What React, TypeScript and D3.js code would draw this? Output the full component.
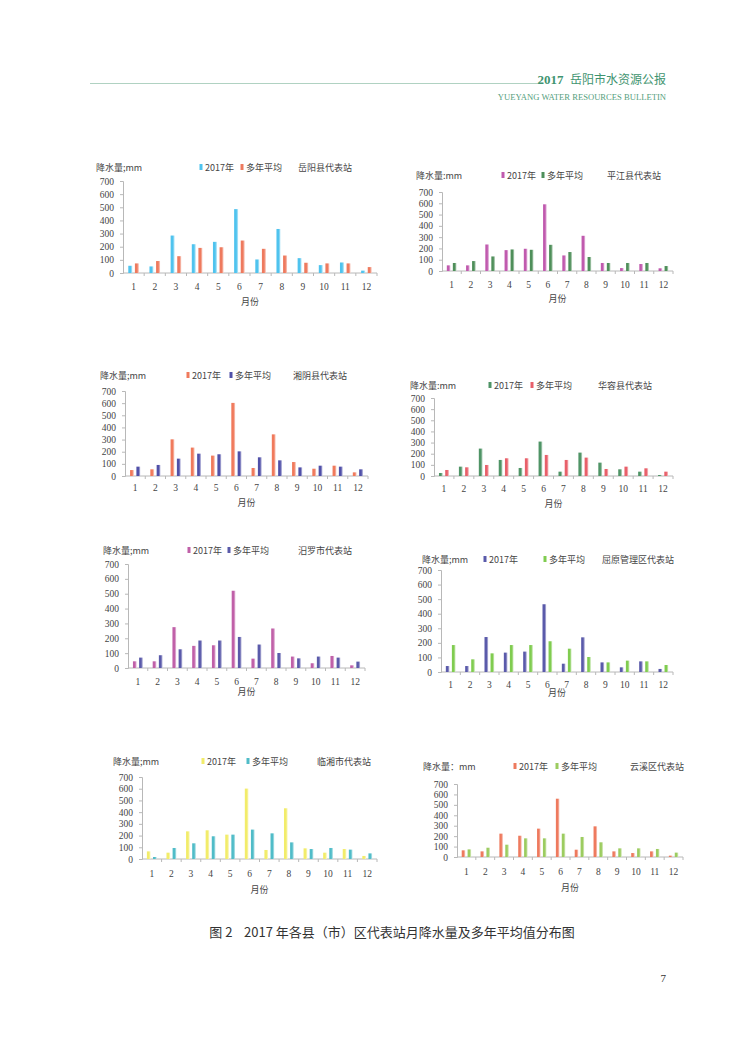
import { useEffect, useRef } from 'react'
import * as d3 from 'd3'

const months = ['1', '2', '3', '4', '5', '6', '7', '8', '9', '10', '11', '12']
const yTicks = [0, 100, 200, 300, 400, 500, 600, 700]
const seriesNames = ['2017年', '多年平均']

const stations = ['岳阳县代表站', '平江县代表站', '湘阴县代表站', '华容县代表站', '汨罗市代表站', '屈原管理区代表站', '临湘市代表站', '云溪区代表站']
const yAxisTitles = ['降水量;mm', '降水量:mm', '降水量;mm', '降水量:mm', '降水量;mm', '降水量;mm', '降水量;mm', '降水量：mm']

const yueyang2017 = [55, 50, 285, 219, 237, 486, 103, 335, 113, 60, 80, 18]
const yueyangAvg = [73, 91, 128, 191, 196, 247, 184, 133, 78, 73, 73, 45]
const pingjiang2017 = [50, 50, 235, 185, 197, 591, 138, 312, 71, 26, 62, 24]
const pingjiangAvg = [71, 88, 129, 191, 188, 232, 168, 124, 71, 71, 71, 44]
const xiangyin2017 = [49, 55, 302, 234, 168, 602, 66, 343, 115, 60, 85, 30]
const xiangyinAvg = [77, 91, 143, 184, 179, 203, 154, 129, 71, 85, 77, 55]
const huarong2017 = [27, 84, 246, 144, 72, 309, 39, 210, 120, 60, 39, 9]
const huarongAvg = [54, 78, 99, 159, 159, 189, 144, 165, 63, 84, 69, 39]
const miluo2017 = [45, 45, 275, 149, 153, 520, 63, 266, 77, 32, 81, 18]
const miluoAvg = [70, 86, 126, 185, 185, 209, 158, 101, 65, 77, 70, 43]
const quyuan2017 = [41, 41, 240, 133, 140, 465, 57, 238, 66, 32, 73, 21]
const quyuanAvg = [185, 87, 128, 185, 185, 211, 160, 103, 66, 78, 73, 48]
const linxiang2017 = [65, 54, 236, 245, 208, 601, 77, 433, 91, 54, 85, 26]
const linxiangAvg = [17, 94, 134, 194, 208, 251, 219, 142, 85, 94, 80, 48]
const yunxi2017 = [64, 54, 224, 204, 272, 559, 70, 294, 54, 38, 54, 13]
const yunxiAvg = [73, 89, 118, 179, 179, 224, 192, 141, 83, 83, 77, 42]

const values2017 = [yueyang2017, pingjiang2017, xiangyin2017, huarong2017, miluo2017, quyuan2017, linxiang2017, yunxi2017]
const valuesAvg = [yueyangAvg, pingjiangAvg, xiangyinAvg, huarongAvg, miluoAvg, quyuanAvg, linxiangAvg, yunxiAvg]

const colors = [
  ['#4fc3ee', '#ee7a5e'],
  ['#c05aae', '#4f8f5a'],
  ['#f07a5c', '#5050a8'],
  ['#4f9466', '#e8606a'],
  ['#c060a8', '#5a5aaa'],
  ['#5a5aaa', '#80cc50'],
  ['#f2ec6a', '#50bcc8'],
  ['#ee7a5e', '#9ccc60'],
]

// panel placement on the page
const panels = [
  { x0: 123, x1: 377, top: 181, zero: 273, tx: 96, ty: 167, l1: 201, l2: 242, sx: 298, my: 286, xt: 301 },
  { x0: 442, x1: 673, top: 192, zero: 271, tx: 416, ty: 175, l1: 503, l2: 543, sx: 607, my: 284, xt: 298 },
  { x0: 125, x1: 368, top: 391, zero: 476, tx: 100, ty: 375, l1: 188, l2: 231, sx: 293, my: 487, xt: 502 },
  { x0: 434, x1: 673, top: 398, zero: 476, tx: 410, ty: 385, l1: 490, l2: 532, sx: 598, my: 488, xt: 503 },
  { x0: 128, x1: 365, top: 564, zero: 668, tx: 103, ty: 550, l1: 189, l2: 229, sx: 298, my: 681, xt: 691 },
  { x0: 441, x1: 673, top: 570, zero: 672, tx: 422, ty: 559, l1: 485, l2: 545, sx: 602, my: 684, xt: 692 },
  { x0: 142, x1: 377, top: 777, zero: 859, tx: 113, ty: 761, l1: 203, l2: 248, sx: 317, my: 873, xt: 889 },
  { x0: 457, x1: 683, top: 784, zero: 857, tx: 423, ty: 766, l1: 515, l2: 557, sx: 630, my: 871, xt: 887 },
]

const serif = '"Liberation Serif", "DejaVu Serif", serif'
const cjk = '"Noto Sans CJK SC", sans-serif'

export default function App() {
  const svgRef = useRef<SVGSVGElement>(null)

  useEffect(() => {
    if (!svgRef.current) return
    const svg = d3.select(svgRef.current)
    svg.selectAll('*').remove()

    const defs = svg.append('defs')

    // page header
    svg.append('line')
      .attr('x1', 90).attr('x2', 541).attr('y1', 83.5).attr('y2', 83.5)
      .attr('stroke', '#9cc7b2').attr('stroke-width', 0.8)
    const head = svg.append('text')
      .attr('x', 666).attr('y', 84).attr('text-anchor', 'end')
      .attr('fill', '#3f9470').attr('font-size', 13)
      .style('white-space', 'pre')
    head.append('tspan').attr('font-family', serif).attr('font-weight', 'bold').text('2017  ')
    head.append('tspan').attr('font-family', cjk).attr('font-size', 12).text('岳阳市水资源公报')
    svg.append('text')
      .attr('x', 666).attr('y', 100).attr('text-anchor', 'end')
      .attr('fill', '#55a07e').attr('font-size', 8.6).attr('font-family', serif)
      .text('YUEYANG WATER RESOURCES BULLETIN')

    panels.forEach((p, i) => {
      const g = svg.append('g')
      const x = d3.scaleBand().domain(months).range([p.x0, p.x1])
      const sub = d3.scaleBand().domain(seriesNames).range([0, x.bandwidth()])
        .paddingInner(0.4).paddingOuter(0.8)
      const y = d3.scaleLinear().domain([0, 700]).range([p.zero, p.top])

      colors[i].forEach((c, s) => {
        const grad = defs.append('linearGradient')
          .attr('id', `grad-${i}-${s}`)
          .attr('x1', 0).attr('x2', 1).attr('y1', 0).attr('y2', 0)
        grad.append('stop').attr('offset', 0).attr('stop-color', c)
        grad.append('stop').attr('offset', 0.55).attr('stop-color', c)
        grad.append('stop').attr('offset', 1).attr('stop-color', d3.interpolateRgb(c, '#fff')(0.65))
      })

      // y axis
      const yAxis = g.append('g')
        .attr('transform', `translate(${p.x0},0)`)
        .call(d3.axisLeft(y).tickValues(yTicks).tickSize(3).tickPadding(6))
      yAxis.select('.domain').attr('stroke', '#b8b8b8')
      yAxis.selectAll('.tick line').attr('stroke', '#b8b8b8')
      yAxis.selectAll('.tick text')
        .attr('font-family', serif).attr('font-size', 9.5).attr('fill', '#444')

      // x axis baseline with ticks at category boundaries
      g.append('line')
        .attr('x1', p.x0).attr('x2', p.x1).attr('y1', p.zero).attr('y2', p.zero)
        .attr('stroke', '#b8b8b8')
      g.selectAll('.xtick')
        .data(months)
        .join('line')
        .attr('x1', d => x(d)! + x.bandwidth())
        .attr('x2', d => x(d)! + x.bandwidth())
        .attr('y1', p.zero).attr('y2', p.zero + 3)
        .attr('stroke', '#b8b8b8')

      g.selectAll('.mlabel')
        .data(months)
        .join('text')
        .attr('x', d => x(d)! + x.bandwidth() / 2)
        .attr('y', p.my + 3.5)
        .attr('text-anchor', 'middle')
        .attr('font-family', serif).attr('font-size', 9.5).attr('fill', '#444')
        .text(d => d)

      g.append('text')
        .attr('x', (p.x0 + p.x1) / 2).attr('y', p.xt + 3.5)
        .attr('text-anchor', 'middle')
        .attr('font-family', cjk).attr('font-size', 9).attr('fill', '#444')
        .text('月份')

      // bars
      const seriesData = [values2017[i], valuesAvg[i]]
      seriesData.forEach((vals, s) => {
        g.selectAll(`.bar-${s}`)
          .data(vals)
          .join('rect')
          .attr('x', (_, k) => x(months[k])! + sub(seriesNames[s])!)
          .attr('y', d => y(d))
          .attr('width', sub.bandwidth())
          .attr('height', d => p.zero - y(d))
          .attr('fill', `url(#grad-${i}-${s})`)
      })

      // titles and legend
      g.append('text')
        .attr('x', p.tx).attr('y', p.ty + 3.5)
        .attr('font-family', cjk).attr('font-size', 9).attr('fill', '#444')
        .text(yAxisTitles[i])

      const legX = [p.l1, p.l2]
      seriesNames.forEach((name, s) => {
        g.append('rect')
          .attr('x', legX[s] - 1.5).attr('y', p.ty - 3)
          .attr('width', 3).attr('height', 6)
          .attr('fill', colors[i][s])
        g.append('text')
          .attr('x', legX[s] + 4).attr('y', p.ty + 3.5)
          .attr('font-family', cjk).attr('font-size', 9).attr('fill', '#444')
          .text(name)
      })

      g.append('text')
        .attr('x', p.sx).attr('y', p.ty + 3.5)
        .attr('font-family', cjk).attr('font-size', 9).attr('fill', '#444')
        .text(stations[i])
    })

    // figure caption and page number
    svg.append('text')
      .attr('x', 392).attr('y', 937).attr('text-anchor', 'middle')
      .attr('font-family', cjk).attr('font-size', 13).attr('fill', '#333')
      .style('white-space', 'pre')
      .text('图 2    2017 年各县（市）区代表站月降水量及多年平均值分布图')
    svg.append('text')
      .attr('x', 666).attr('y', 982).attr('text-anchor', 'end')
      .attr('font-family', serif).attr('font-size', 11).attr('fill', '#333')
      .text('7')
  }, [])

  return (
    <svg
      ref={svgRef}
      width={750}
      height={1060}
      style={{ position: 'absolute', left: 0, top: 0, background: '#fff', display: 'block' }}
    />
  )
}
